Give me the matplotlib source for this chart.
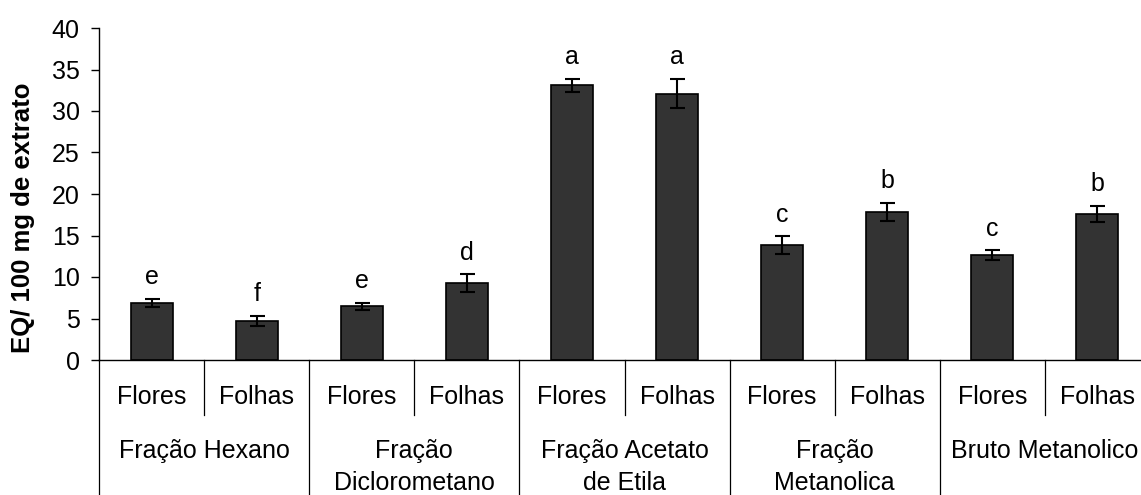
import matplotlib
matplotlib.use("Agg")
import matplotlib.pyplot as plt
import numpy as np

plt.rcParams['font.family'] = ['Liberation Sans', 'DejaVu Sans']

# ---- data ----
sub_labels = ["Flores", "Folhas", "Flores", "Folhas", "Flores", "Folhas",
              "Flores", "Folhas", "Flores", "Folhas"]
group_labels = ["Fração Hexano", "Fração\nDiclorometano", "Fração Acetato\nde Etila",
                "Fração\nMetanolica", "Bruto Metanolico"]
values = [6.9, 4.75, 6.45, 9.25, 33.1, 32.1, 13.8, 17.85, 12.6, 17.6]
errors = [0.5, 0.6, 0.45, 1.08, 0.8, 1.75, 1.08, 1.08, 0.6, 0.95]
letters = ["e", "f", "e", "d", "a", "a", "c", "b", "c", "b"]
yticks = [0, 5, 10, 15, 20, 25, 30, 35, 40]
ylabel = "EQ/ 100 mg de extrato"

FS = 18
W, H = 1141, 495
fig = plt.figure(figsize=(W / 100, H / 100), dpi=100)
# axes in pixel coordinates
left, right, top, bottom = 99, 1150, 28, 360
ax = fig.add_axes([left / W, (H - bottom) / H, (right - left) / W, (bottom - top) / H])

x = np.arange(len(values))
ax.bar(x, values, width=0.4, color="#333333", edgecolor="black", linewidth=1.2, zorder=2)
ax.errorbar(x, values, yerr=errors, fmt="none", ecolor="black", elinewidth=1.5,
            capsize=5.4, capthick=1.5, zorder=3)
for xi, v, e, l in zip(x, values, errors, letters):
    ax.annotate(l, (xi, v + e), xytext=(0, 7), textcoords="offset points",
                ha="center", va="bottom", fontsize=FS)

ax.set_xlim(-0.5, len(values) - 0.5)
ax.set_ylim(0, 40)
ax.set_yticks(yticks)
ax.tick_params(axis="y", direction="out", length=6, width=1, labelsize=FS, pad=8)
ax.set_xticks([])
for s in ["top", "right"]:
    ax.spines[s].set_visible(False)
ax.spines["left"].set_linewidth(1)
ax.spines["bottom"].set_linewidth(1)

# multi-level category axis
tr = ax.get_xaxis_transform()
ppx = 1.0 / (bottom - top)  # axes fraction per pixel
y_sub_end = -(415 - bottom) * ppx
y_grp_end = -(H - bottom + 5) * ppx
for k in range(len(values) + 1):
    xe = k - 0.5
    yend = y_grp_end if k % 2 == 0 else y_sub_end
    ax.plot([xe, xe], [0, yend], transform=tr, color="black", lw=0.9, clip_on=False)
for xi, lab in zip(x, sub_labels):
    ax.text(xi, -(397 - bottom) * ppx, lab, transform=tr, ha="center", va="center",
            fontsize=FS)
for g, lab in enumerate(group_labels):
    xc = 2 * g + 0.5
    ax.text(xc, -(439 - bottom) * ppx, lab, transform=tr, ha="center", va="top",
            fontsize=FS, linespacing=1.42)

fig.text(23 / W, (H - 218) / H, ylabel, rotation=90, ha="center", va="center",
         fontsize=18.5, fontweight="bold")

fig.savefig("out.png", dpi=100)
